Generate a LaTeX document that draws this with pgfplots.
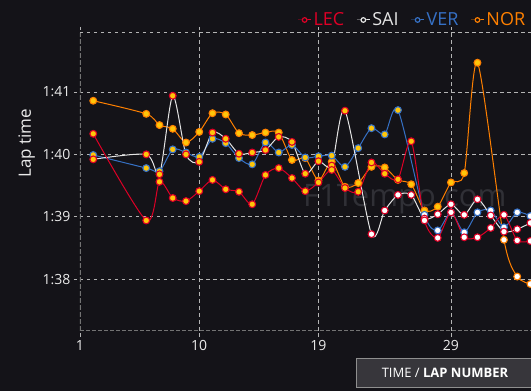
\documentclass[border=0pt]{standalone}
\usepackage{pgfplots}
\pgfplotsset{compat=1.18}
\usepackage{pgfplotstable}
\usepackage{fontspec}
\setmainfont{Open Sans}
\definecolor{bg}{RGB}{20,19,24}
\definecolor{gridc}{RGB}{180,180,180}
\definecolor{bordc}{RGB}{115,115,115}
\definecolor{lec}{RGB}{222,0,38}
\definecolor{sai}{RGB}{228,228,228}
\definecolor{ver}{RGB}{54,113,198}
\definecolor{nor}{RGB}{255,128,0}
\definecolor{tyrey}{RGB}{255,198,10}
\definecolor{tick}{RGB}{235,235,235}
\definecolor{wm}{RGB}{48,48,54}

\pgfplotstableread{
lap t c
2 100.33 m
6 98.94 m
7 99.56 m
8 99.30 m
9 99.25 m
10 99.41 m
11 99.59 m
12 99.44 m
13 99.40 m
14 99.20 m
15 99.67 m
16 99.78 m
17 99.62 m
18 99.41 m
19 99.55 m
20 99.75 m
21 99.46 m
22 99.40 m
23 99.87 m
24 99.69 m
25 99.60 m
26 100.21 m
27 98.94 h
28 98.66 h
29 99.07 h
30 98.67 h
31 98.67 h
32 98.82 h
33 99.03 h
34 98.62 h
35 98.61 h
}\lecdata

\pgfplotstableread{
lap t c
2 99.92 m
6 100.00 m
7 99.68 m
8 100.94 m
9 100.00 m
10 99.88 m
11 100.35 m
12 100.25 m
13 100.01 m
14 100.03 m
15 100.07 m
16 100.28 m
17 100.20 m
18 99.69 m
19 99.89 m
20 99.82 m
21 100.70 m
23 98.72 h
24 99.10 h
25 99.35 h
26 99.35 h
27 98.97 h
28 99.04 h
29 99.20 h
30 99.03 h
31 99.28 h
32 99.02 h
33 98.76 h
34 98.80 h
35 98.90 h
}\saidata

\pgfplotstableread{
lap t c
2 99.99 m
6 99.78 m
7 99.73 m
8 100.08 m
9 100.03 m
10 99.96 m
11 100.25 m
12 100.18 m
13 99.94 m
14 99.84 m
15 100.19 m
16 100.03 m
17 100.15 m
18 99.95 m
19 99.97 m
20 99.98 m
21 99.80 m
22 100.10 m
23 100.42 m
24 100.32 m
25 100.71 m
27 99.03 h
28 98.78 h
29 99.07 h
30 98.75 h
31 99.07 h
32 99.10 h
33 98.83 h
34 99.07 h
35 99.01 h
}\verdata

\pgfplotstableread{
lap t c
2 100.86 m
6 100.65 m
7 100.47 m
8 100.41 m
9 100.19 m
10 100.36 m
11 100.66 m
12 100.64 m
13 100.34 m
14 100.31 m
15 100.35 m
16 100.35 m
17 99.91 m
18 99.94 m
19 99.58 m
20 99.88 m
21 99.48 m
22 99.54 m
23 99.80 m
24 99.79 m
25 99.59 m
26 99.52 m
27 99.10 m
28 99.16 m
29 99.55 m
30 99.70 m
31 101.47 m
33 98.63 h
34 98.04 h
35 97.92 h
}\nordata

\begin{document}
\begin{tikzpicture}
\useasboundingbox (0,0) rectangle (531pt,391pt);
\fill[bg] (0,0) rectangle (531pt,391pt);
\node[anchor=base west, inner sep=0pt, text=wm, font=\fontsize{31}{31}\selectfont] at (303pt,184pt) {F1Tempo.com};
\begin{axis}[
  at={(80pt,60.2pt)}, anchor=south west,
  scale only axis, width=451pt, height=298pt,
  xmin=1, xmax=35.04, ymin=97.17, ymax=101.95,
  xtick={1,10,19,29}, ytick={98,99,100,101},
  yticklabels={1:38,1:39,1:40,1:41},
  axis line style={draw=none},
  grid=major,
  major grid style={gridc, line width=0.8pt, dash pattern=on 3.5pt off 3.5pt},
  tick align=outside, major tick length=6pt,
  tick style={gridc, line width=0.8pt, dash pattern=on 3.5pt off 3.5pt},
  /pgf/number format/assume math mode=true,
  ticklabel style={text=tick, font=\fontsize{14}{14}\selectfont},
  ylabel={Lap time},
  ylabel style={at={(axis description cs:-0.118,0.63)}, anchor=center, text=tick, font=\fontsize{17}{17}\selectfont},
  legend columns=4,
  legend style={at={(axis description cs:0.992,1.043)}, anchor=east, draw=none, fill=none,
    inner sep=0pt, font=\fontsize{18}{18}\selectfont,
    /tikz/every even column/.append style={column sep=10pt}},
  legend image code/.code={\draw[mark repeat=2,mark phase=2,#1] plot coordinates {(0pt,0pt) (6.5pt,0pt) (13pt,0pt)};},
  clip=true,
]
\draw[bordc, line width=1.6pt, dash pattern=on 5pt off 2pt] (rel axis cs:0,0) -- (rel axis cs:0,1);
\draw[bordc, line width=1.4pt, dash pattern=on 4pt off 2pt] (rel axis cs:0,0) -- (rel axis cs:1,0);
\draw[gridc, line width=0.9pt, dash pattern=on 3.5pt off 3.5pt] (rel axis cs:0,1) -- (rel axis cs:1,1);

\addlegendimage{lec, line width=1pt, mark=*, mark size=2.3pt, mark options={fill=bg, draw=lec, line width=1.2pt}}
\addlegendentry{\textcolor{lec}{LEC}}
\addlegendimage{sai, line width=1pt, mark=*, mark size=2.3pt, mark options={fill=bg, draw=sai, line width=1.2pt}}
\addlegendentry{\textcolor{sai}{SAI}}
\addlegendimage{ver, line width=1pt, mark=*, mark size=2.3pt, mark options={fill=bg, draw=ver, line width=1.2pt}}
\addlegendentry{\textcolor{ver}{VER}}
\addlegendimage{nor, line width=1pt, mark=*, mark size=2.3pt, mark options={fill=bg, draw=nor, line width=1.2pt}}
\addlegendentry{\textcolor{nor}{NOR}}

\addplot[nor, line width=1pt, smooth, tension=0.45, forget plot, scatter, scatter src=explicit symbolic,
  scatter/classes={m={mark=*, mark size=3.4pt, fill=tyrey, draw=nor, line width=1.1pt}, h={mark=*, mark size=3.4pt, fill=white, draw=nor, line width=1.1pt}}]
  table[x=lap, y=t, meta=c] {\nordata};
\addplot[ver, line width=1pt, smooth, tension=0.45, forget plot, scatter, scatter src=explicit symbolic,
  scatter/classes={m={mark=*, mark size=3.4pt, fill=tyrey, draw=ver, line width=1.1pt}, h={mark=*, mark size=3.4pt, fill=white, draw=ver, line width=1.1pt}}]
  table[x=lap, y=t, meta=c] {\verdata};
\addplot[sai, line width=1pt, smooth, tension=0.45, forget plot, scatter, scatter src=explicit symbolic,
  scatter/classes={m={mark=*, mark size=3.4pt, fill=tyrey, draw=lec, line width=1.1pt}, h={mark=*, mark size=3.4pt, fill=white, draw=lec, line width=1.1pt}}]
  table[x=lap, y=t, meta=c] {\saidata};
\addplot[lec, line width=1pt, smooth, tension=0.45, forget plot, scatter, scatter src=explicit symbolic,
  scatter/classes={m={mark=*, mark size=3.4pt, fill=tyrey, draw=lec, line width=1.1pt}, h={mark=*, mark size=3.4pt, fill=white, draw=lec, line width=1.1pt}}]
  table[x=lap, y=t, meta=c] {\lecdata};
\end{axis}
\fill[bg!85!white] (356pt,3.5pt) rectangle (540pt,33pt);
\draw[bordc!80!white, line width=0.8pt] (356pt,3.5pt) rectangle (540pt,33pt);
\node[text=white, font=\fontsize{13}{13}\selectfont, anchor=center] at (445pt,18.5pt) {TIME / \textbf{LAP NUMBER}};
\end{tikzpicture}
\end{document}
